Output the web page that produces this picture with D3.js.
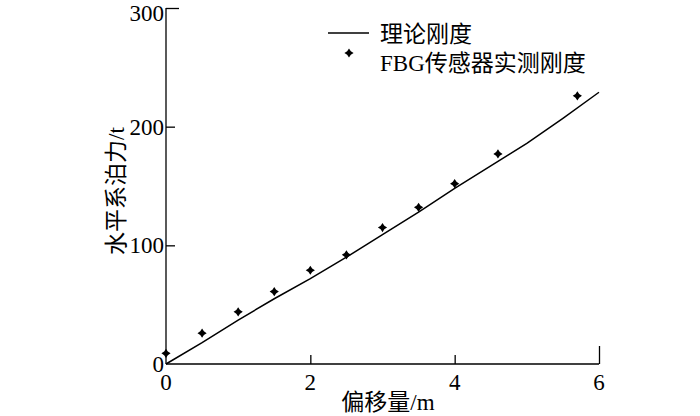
<!DOCTYPE html>
<html>
<head>
<meta charset="utf-8">
<script src="https://cdn.jsdelivr.net/npm/d3@7"></script>
<style>
  body { margin: 0; background: #fff; }
  svg text { font-family: "Liberation Serif", "Noto Sans CJK SC", serif; fill: #000; }
</style>
</head>
<body>
<svg id="chart" width="700" height="416"></svg>
<script>
// Theoretical stiffness curve
const theoryX = [0, 0.5, 1, 1.5, 2, 2.5, 3, 3.5, 4, 4.5, 5, 5.5, 6];
const theoryY = [0, 18, 37, 55, 72, 90, 109, 128, 148, 167, 186, 207, 229];
// FBG measured stiffness
const fbgX = [0, 0.5, 1, 1.5, 2, 2.5, 3, 3.5, 4, 4.6, 5.7];
const fbgY = [9, 26, 44, 61, 79, 92, 115, 132, 152, 177, 226];
// Ticks
const xTicks = [0, 2, 4, 6];
const yTicks = [0, 100, 200, 300];
const legendLabels = ["理论刚度", "FBG传感器实测刚度"];
const xLabel = "偏移量/m";
const yLabel = "水平系泊力/t";

const svg = d3.select("#chart");
const x = d3.scaleLinear().domain([0, 6]).range([166, 599]);
const y = d3.scaleLinear().domain([0, 300]).range([364, 8]);
const fs = 23;

// X axis (ticks inward/up)
const xAxis = svg.append("g").attr("transform", `translate(0,${y(0)})`)
  .call(d3.axisTop(x).tickValues(xTicks).tickSize(9).tickFormat(""));
xAxis.select(".domain").attr("d", `M${x(0)},0H${x(6)}`).attr("stroke", "#000").attr("stroke-width", 1.3);
xAxis.selectAll(".tick line").attr("stroke", "#000").attr("stroke-width", 1.3)
  .attr("y2", d => d === 6 ? -18 : (d === 0 ? 0 : -9));
svg.append("g").selectAll("text").data(xTicks).join("text")
  .attr("x", d => x(d)).attr("y", 390).attr("text-anchor", "middle")
  .attr("font-size", fs).text(d => d);

// Y axis (ticks inward/right)
const yAxis = svg.append("g").attr("transform", `translate(${x(0)},0)`)
  .call(d3.axisRight(y).tickValues(yTicks).tickSize(9).tickFormat(""));
yAxis.select(".domain").attr("d", `M0,${y(0)}V${y(300)}`).attr("stroke", "#000").attr("stroke-width", 1.3);
yAxis.selectAll(".tick line").attr("stroke", "#000").attr("stroke-width", 1.3)
  .attr("x2", d => d === 300 ? 13 : (d === 0 ? 0 : 9));
svg.append("g").selectAll("text").data(yTicks).join("text")
  .attr("x", 164).attr("y", d => Math.max(y(d) + 8, 21)).attr("text-anchor", "end")
  .attr("font-size", fs).text(d => d);

// Axis titles
svg.append("text").attr("x", 388).attr("y", 410).attr("text-anchor", "middle")
  .attr("font-size", fs).text(xLabel);
svg.append("text").attr("transform", "translate(124,191) rotate(-90)")
  .attr("text-anchor", "middle").attr("font-size", fs).text(yLabel);

// Theory line
const line = d3.line().x(d => x(d[0])).y(d => y(d[1]));
svg.append("path").datum(theoryX.map((v, i) => [v, theoryY[i]]))
  .attr("d", line).attr("fill", "none").attr("stroke", "#000").attr("stroke-width", 1.5);

// Star marker
function starPath(r, ri) {
  const pts = [];
  for (let i = 0; i < 8; i++) {
    const a = i * Math.PI / 4 - Math.PI / 2;
    const rr = i % 2 === 0 ? r : ri;
    pts.push([rr * Math.cos(a), rr * Math.sin(a)]);
  }
  return "M" + pts.map(p => p.join(",")).join("L") + "Z";
}
const star = starPath(4.6, 2.6);
svg.append("g").selectAll("path").data(fbgX.map((v, i) => [v, fbgY[i]])).join("path")
  .attr("transform", d => `translate(${x(d[0])},${y(d[1])})`)
  .attr("d", star).attr("fill", "#000");

// Legend
svg.append("line").attr("x1", 328).attr("x2", 369).attr("y1", 33).attr("y2", 33)
  .attr("stroke", "#000").attr("stroke-width", 1.5);
svg.append("text").attr("x", 380).attr("y", 42).attr("font-size", fs).text(legendLabels[0]);
svg.append("path").attr("transform", "translate(349,53)").attr("d", star).attr("fill", "#000");
svg.append("text").attr("x", 380).attr("y", 71).attr("font-size", fs).text(legendLabels[1]);
</script>
</body>
</html>
